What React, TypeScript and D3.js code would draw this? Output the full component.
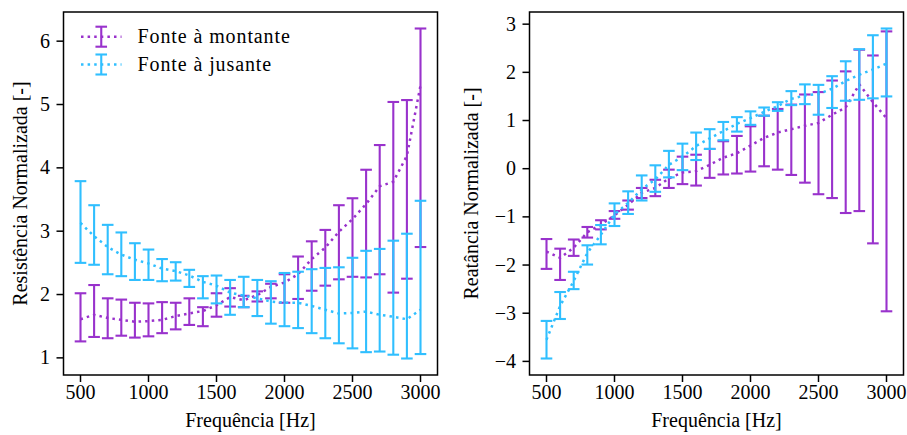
import React from 'react';
import * as d3 from 'd3';

const freqs = [500, 600, 700, 800, 900, 1000, 1100, 1200, 1300, 1400, 1500, 1600, 1700, 1800, 1900, 2000, 2100, 2200, 2300, 2400, 2500, 2600, 2700, 2800, 2900, 3000];

const seriesNames = ['Fonte à montante', 'Fonte à jusante'];

// Resistência — fonte à montante
const resMontanteMean = [1.61, 1.68, 1.63, 1.60, 1.57, 1.58, 1.60, 1.66, 1.70, 1.74, 1.83, 1.96, 1.91, 1.99, 2.12, 2.19, 2.32, 2.56, 2.74, 2.99, 3.19, 3.43, 3.71, 3.78, 4.19, 5.30];
const resMontanteLow = [1.26, 1.33, 1.31, 1.35, 1.32, 1.34, 1.39, 1.45, 1.52, 1.50, 1.65, 1.81, 1.80, 1.89, 1.94, 1.87, 1.93, 2.06, 2.14, 2.24, 2.28, 2.27, 2.32, 2.03, 2.25, 2.75];
const resMontanteHigh = [2.02, 2.15, 1.94, 1.92, 1.87, 1.86, 1.88, 1.87, 1.94, 1.80, 2.02, 2.10, 1.98, 2.05, 2.17, 2.32, 2.60, 2.84, 3.02, 3.41, 3.52, 3.97, 4.36, 5.04, 5.07, 6.20];

// Resistência — fonte à jusante
const resJusanteMean = [3.13, 2.92, 2.75, 2.63, 2.55, 2.49, 2.41, 2.37, 2.30, 2.20, 2.14, 2.03, 1.98, 1.94, 1.89, 1.87, 1.87, 1.82, 1.76, 1.70, 1.71, 1.73, 1.68, 1.65, 1.61, 1.76];
const resJusanteLow = [2.50, 2.47, 2.32, 2.29, 2.23, 2.23, 2.21, 2.22, 2.12, 1.94, 1.86, 1.68, 1.80, 1.66, 1.54, 1.50, 1.47, 1.39, 1.31, 1.23, 1.15, 1.09, 1.10, 1.05, 0.99, 1.06];
const resJusanteHigh = [3.79, 3.41, 3.10, 2.98, 2.81, 2.71, 2.56, 2.51, 2.39, 2.29, 2.30, 2.23, 2.28, 2.23, 2.21, 2.34, 2.36, 2.40, 2.42, 2.43, 2.58, 2.69, 2.72, 2.85, 2.96, 3.48];

// Reatância — fonte à montante
const reaMontanteMean = [-1.72, -1.85, -1.64, -1.32, -1.16, -0.97, -0.75, -0.50, -0.40, -0.20, -0.08, -0.05, 0.08, 0.23, 0.32, 0.48, 0.64, 0.75, 0.82, 0.89, 0.95, 1.12, 1.27, 1.75, 1.38, 1.05];
const reaMontanteLow = [-2.08, -2.31, -1.81, -1.43, -1.26, -1.04, -0.85, -0.61, -0.57, -0.40, -0.32, -0.35, -0.19, -0.12, -0.10, -0.06, 0.05, -0.02, -0.13, -0.29, -0.53, -0.61, -0.92, -0.88, -1.55, -2.96];
const reaMontanteHigh = [-1.46, -1.66, -1.47, -1.21, -1.07, -0.88, -0.66, -0.40, -0.23, -0.02, 0.25, 0.29, 0.41, 0.57, 0.68, 0.88, 1.10, 1.24, 1.33, 1.54, 1.59, 1.83, 2.02, 2.47, 2.35, 2.85];

// Reatância — fonte à jusante
const reaJusanteMean = [-3.55, -2.85, -2.33, -1.75, -1.37, -0.95, -0.71, -0.43, -0.22, 0.08, 0.25, 0.47, 0.63, 0.78, 0.93, 1.05, 1.18, 1.30, 1.45, 1.52, 1.55, 1.66, 1.82, 1.95, 2.06, 2.18];
const reaJusanteLow = [-3.94, -3.12, -2.50, -1.99, -1.57, -1.19, -0.94, -0.66, -0.48, -0.18, -0.03, 0.18, 0.41, 0.59, 0.77, 0.91, 1.10, 1.20, 1.32, 1.34, 1.12, 1.26, 1.41, 1.43, 1.46, 1.50];
const reaJusanteHigh = [-3.16, -2.56, -2.14, -1.59, -1.17, -0.72, -0.47, -0.14, 0.07, 0.37, 0.52, 0.75, 0.82, 0.97, 1.07, 1.19, 1.27, 1.38, 1.61, 1.75, 1.74, 1.92, 2.23, 2.48, 2.77, 2.91];

const xTicks = [500, 1000, 1500, 2000, 2500, 3000];
const resTicks = [1, 2, 3, 4, 5, 6];
const reaTicks = [-4, -3, -2, -1, 0, 1, 2, 3];

const xLabel = 'Frequência [Hz]';
const resLabel = 'Resistência Normalizada [-]';
const reaLabel = 'Reatância Normalizada [-]';

const COLORS = ['#9932cc', '#30bfff'];
const FONT = '"Liberation Serif", "Times New Roman", serif';
const FS = 20;

type Series = { mean: number[]; low: number[]; high: number[] };

const W = 907;
const H = 435;
const TOP = 12;
const BOTTOM = 375;
const TICK = 7;

function fmt(v: number) {
  return v < 0 ? '\u2212' + Math.abs(v) : String(v);
}

function Panel(props: {
  left: number;
  right: number;
  series: Series[];
  yTicks: number[];
  yLabel: string;
  yLabelX: number;
  legend: boolean;
}) {
  const { left, right, series, yTicks, yLabel, yLabelX, legend } = props;
  const xMin = d3.min(freqs)!;
  const xMax = d3.max(freqs)!;
  const xPad = (xMax - xMin) * 0.05;
  const x = d3.scaleLinear().domain([xMin - xPad, xMax + xPad]).range([left, right]);
  const yMin = d3.min(series.flatMap((s) => s.low))!;
  const yMax = d3.max(series.flatMap((s) => s.high))!;
  const yPad = (yMax - yMin) * 0.05;
  const y = d3.scaleLinear().domain([yMin - yPad, yMax + yPad]).range([BOTTOM, TOP]);
  const line = d3
    .line<number>()
    .x((_, i) => x(freqs[i]))
    .y((d) => y(d));
  const cap = 5.8;
  const cx = (left + right) / 2;
  const cy = (TOP + BOTTOM) / 2;

  return (
    <g>
      {series.map((s, k) => (
        <g key={k}>
          <path d={line(s.mean) || ''} fill="none" stroke={COLORS[k]} strokeWidth={2.5} strokeDasharray="2.5 4.1" />
          {freqs.map((f, i) => (
            <g key={i} stroke={COLORS[k]} strokeWidth={2.1}>
              <line x1={x(f)} x2={x(f)} y1={y(s.low[i])} y2={y(s.high[i])} />
              <line x1={x(f) - cap} x2={x(f) + cap} y1={y(s.low[i])} y2={y(s.low[i])} />
              <line x1={x(f) - cap} x2={x(f) + cap} y1={y(s.high[i])} y2={y(s.high[i])} />
            </g>
          ))}
        </g>
      ))}
      <rect x={left} y={TOP} width={right - left} height={BOTTOM - TOP} fill="none" stroke="#000" strokeWidth={1.5} />
      {xTicks.map((t) => (
        <g key={t}>
          <line x1={x(t)} x2={x(t)} y1={BOTTOM} y2={BOTTOM + TICK} stroke="#000" strokeWidth={1.5} />
          <text x={x(t)} y={BOTTOM + TICK + 17} textAnchor="middle" fontFamily={FONT} fontSize={FS} fill="#000">
            {fmt(t)}
          </text>
        </g>
      ))}
      {yTicks.map((t) => (
        <g key={t}>
          <line x1={left - TICK} x2={left} y1={y(t)} y2={y(t)} stroke="#000" strokeWidth={1.5} />
          <text x={left - TICK - 6.5} y={y(t)} dy="0.33em" textAnchor="end" fontFamily={FONT} fontSize={FS} fill="#000">
            {fmt(t)}
          </text>
        </g>
      ))}
      <text x={cx} y={427} textAnchor="middle" fontFamily={FONT} fontSize={FS} fill="#000">
        {xLabel}
      </text>
      <text
        transform={`translate(${yLabelX},${cy}) rotate(-90)`}
        textAnchor="middle"
        dy="0.33em"
        fontFamily={FONT}
        fontSize={FS}
        fill="#000"
      >
        {yLabel}
      </text>
      {legend &&
        seriesNames.map((name, k) => {
          const ly = 36.7 + k * 27.8;
          const hx0 = left + 17.5;
          const hx1 = left + 58;
          const hm = (hx0 + hx1) / 2;
          return (
            <g key={name}>
              <line x1={hx0} x2={hx1} y1={ly} y2={ly} stroke={COLORS[k]} strokeWidth={2.5} strokeDasharray="2.5 4.1" />
              <g stroke={COLORS[k]} strokeWidth={2.1}>
                <line x1={hm} x2={hm} y1={ly - 10} y2={ly + 10} />
                <line x1={hm - cap} x2={hm + cap} y1={ly - 10} y2={ly - 10} />
                <line x1={hm - cap} x2={hm + cap} y1={ly + 10} y2={ly + 10} />
              </g>
              <text
                x={left + 74}
                y={ly}
                dy="0.33em"
                fontFamily={FONT}
                fontSize={FS}
                letterSpacing={0.9}
                fill="#000"
              >
                {name}
              </text>
            </g>
          );
        })}
    </g>
  );
}

export default function App() {
  const resSeries: Series[] = [
    { mean: resMontanteMean, low: resMontanteLow, high: resMontanteHigh },
    { mean: resJusanteMean, low: resJusanteLow, high: resJusanteHigh },
  ];
  const reaSeries: Series[] = [
    { mean: reaMontanteMean, low: reaMontanteLow, high: reaMontanteHigh },
    { mean: reaJusanteMean, low: reaJusanteLow, high: reaJusanteHigh },
  ];
  return (
    <svg
      width={W}
      height={H}
      viewBox={`0 0 ${W} ${H}`}
      style={{ position: 'absolute', left: 0, top: 0, background: '#fff' }}
    >
      <rect x={0} y={0} width={W} height={H} fill="#fff" />
      <Panel left={63.5} right={437.5} series={resSeries} yTicks={resTicks} yLabel={resLabel} yLabelX={20} legend={true} />
      <Panel left={529.5} right={903.5} series={reaSeries} yTicks={reaTicks} yLabel={reaLabel} yLabelX={471} legend={false} />
    </svg>
  );
}
